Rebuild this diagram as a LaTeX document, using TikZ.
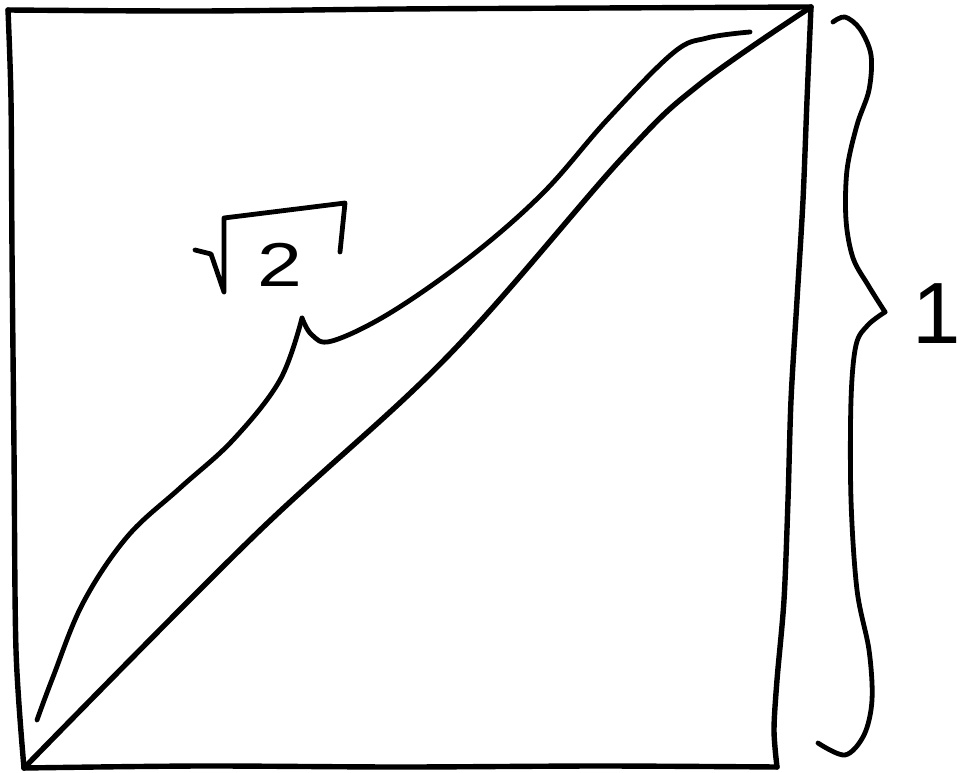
\documentclass[tikz,border=0pt]{standalone}
\usepackage{fontspec}
\setmainfont{Liberation Sans}
\begin{document}
\begin{tikzpicture}[x=1pt,y=-1pt, line cap=round, line join=round,
  pen/.style={draw=black, line width=5.4pt},
  thinpen/.style={draw=black, line width=4.8pt},
  lbl/.style={inner sep=0pt, text=black}]
\useasboundingbox[fill=white] (0,0) rectangle (963,773);
% square corners
\coordinate (TL) at (8,10);
\coordinate (TR) at (811,7);
\coordinate (BR) at (777,767);
\coordinate (BL) at (24,768);
% square edges
\draw[pen] plot[smooth] coordinates {(TL) (200,11) (400,9) (600,8) (TR)};
\draw[pen] plot[smooth] coordinates {(TR) (807,100) (803,200) (797,300) (791,400) (788,500) (784,600) (777,680) (774,730) (BR)};
\draw[pen] plot[smooth] coordinates {(BL) (200,766) (400,767) (600,766) (BR)};
\draw[pen] plot[smooth] coordinates {(TL) (11,100) (12,250) (14,450) (16,650) (BL)};
% diagonal
\draw[pen] plot[smooth, tension=0.6] coordinates {(BL) (253,537) (447,357) (623,157) (700,84) (TR)};
% brace along the diagonal
\coordinate (dtip) at (302,318);
\draw[thinpen] plot[smooth, tension=0.6] coordinates {(37,720) (53,677) (83,603) (127,537) (180,488) (233,440) (280,380) (dtip)};
\draw[thinpen] plot[smooth, tension=0.6] coordinates {(dtip) (312,335) (332,341) (390,313) (470,257) (543,193) (607,120) (673,53) (707,38) (750,32)};
% right brace
\coordinate (rtip) at (885,312);
\draw[thinpen] plot[smooth, tension=0.55] coordinates {(833,22) (845,17) (860,29) (871,55) (869,90) (857,125) (847,170) (846,220) (853,258) (868,285) (rtip)};
\draw[thinpen] plot[smooth, tension=0.55] coordinates {(rtip) (868,325) (856,345) (851,400) (851,500) (857,590) (869,650) (872,700) (864,735) (845,755) (818,743)};
% radical of the root
\draw[thinpen] (195,250) -- (211,254) -- (224,292) -- (224,218) -- (345,203) -- (340,252);
% labels
\node[lbl, font=\fontsize{62}{62}\selectfont] (two) at (280,265) {\scalebox{1.3}[1]{2}};
\node[lbl, font=\fontsize{87}{87}\selectfont] (one) at (937,314) {1};
\end{tikzpicture}
\end{document}
